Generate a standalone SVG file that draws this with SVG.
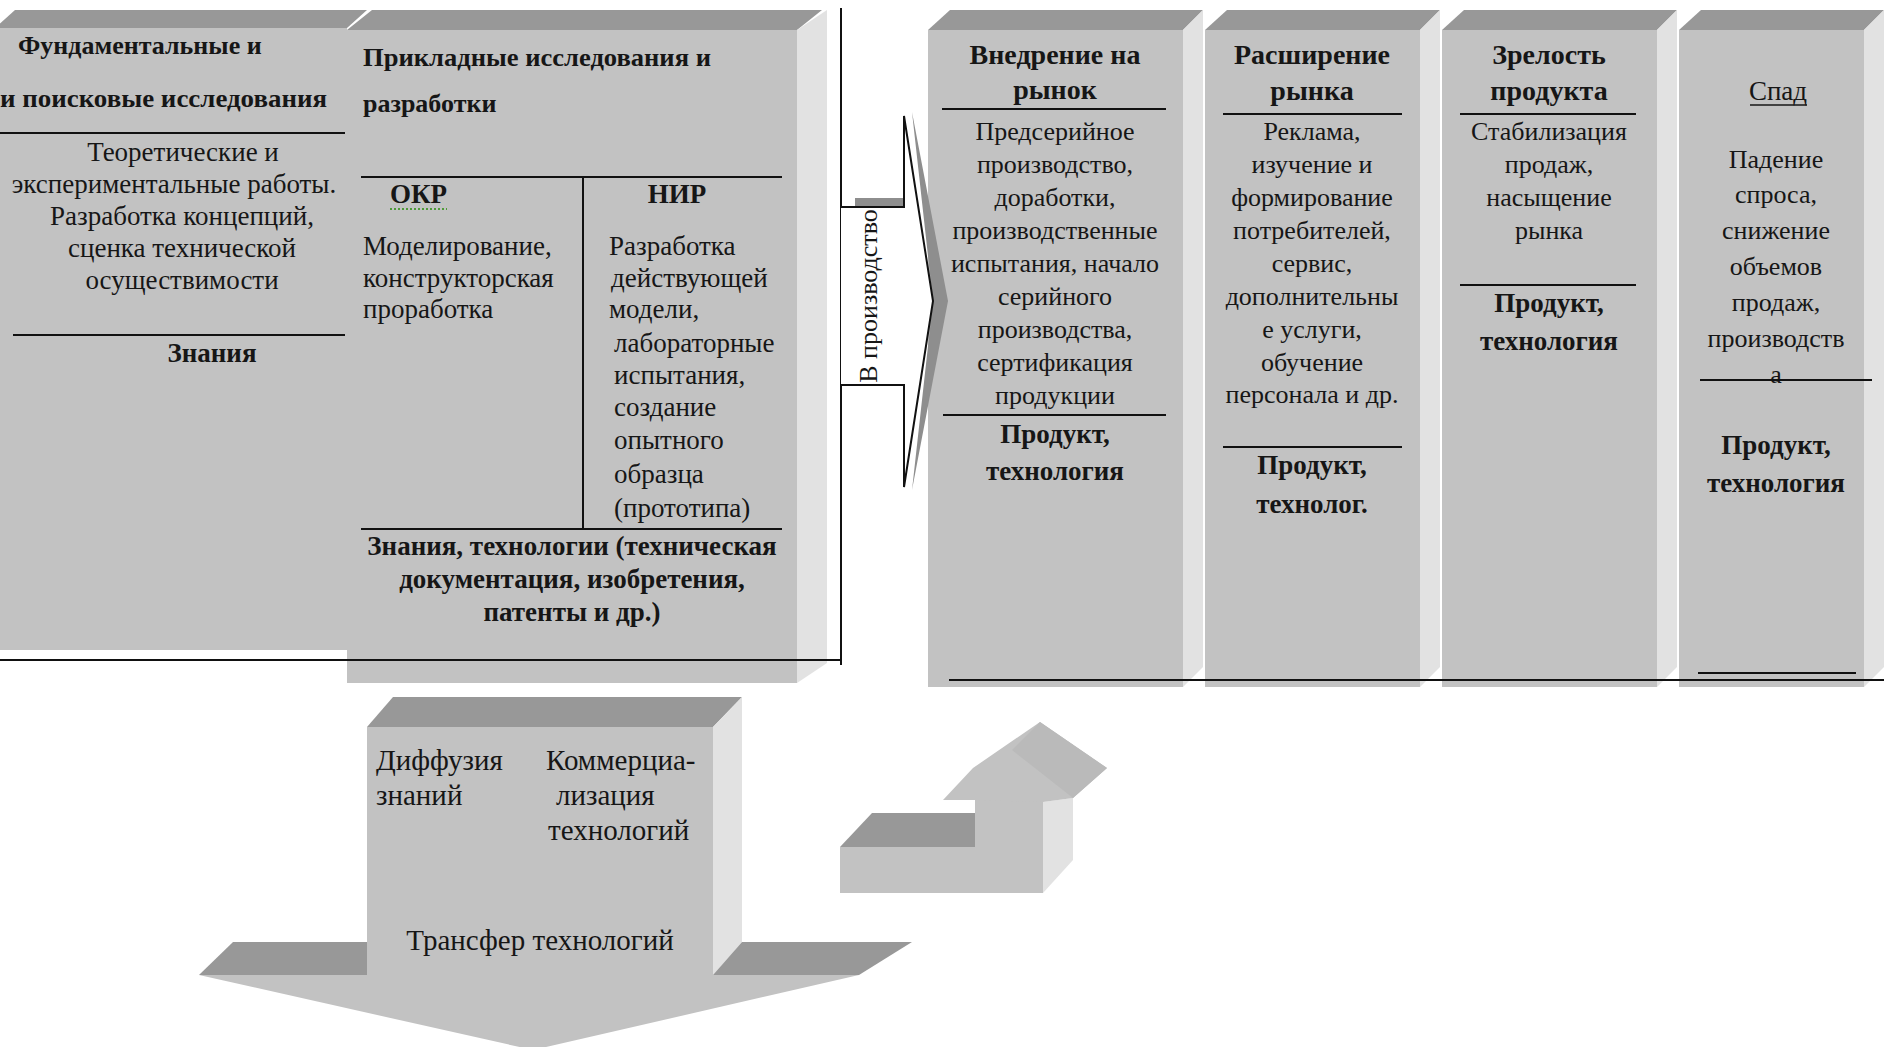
<svg xmlns="http://www.w3.org/2000/svg" width="1884" height="1047" viewBox="0 0 1884 1047">
<style>
.front{fill:#c2c2c2}
.top{fill:#989898}
.side{fill:#e2e2e2}
.dark{fill:#8e8e8e}
.ln{stroke:#111;stroke-width:2;fill:none}
.t{font-family:"Liberation Serif","Times New Roman",serif;font-size:26px;fill:#161616}
.m{font-size:27px}
.h{font-size:28px}
.b{font-weight:bold}
.c{text-anchor:middle}
.big{font-size:29px}
</style>
<rect width="1884" height="1047" fill="#fff"/>

<g id="block-fundamental">
<polygon class="top" points="-5,28 347,28 367,10 15,10"/>
<rect class="front" x="-5" y="28" width="352" height="622"/>
<line class="ln" x1="0" y1="133" x2="345" y2="133"/>
<line class="ln" x1="13" y1="335" x2="345" y2="335"/>
<text class="t b" x="18" y="54">Фундаментальные и</text>
<text class="t b" x="0" y="107" textLength="327" lengthAdjust="spacingAndGlyphs">и поисковые исследования</text>
<text class="t m c" x="183" y="161">Теоретические и</text>
<text class="t m c" x="174" y="193">экспериментальные работы.</text>
<text class="t m c" x="182" y="225">Разработка концепций,</text>
<text class="t m c" x="182" y="257">сценка технической</text>
<text class="t m c" x="182" y="289">осуществимости</text>
<text class="t m b c" x="212" y="362">Знания</text>
</g>

<g id="block-applied">
<polygon class="top" points="347,30 797,30 822,10 372,10"/>
<polygon class="side" points="797,30 827,10 827,663 797,683"/>
<rect class="front" x="347" y="30" width="450" height="653"/>
<line class="ln" x1="361" y1="177" x2="782" y2="177"/>
<line class="ln" x1="583" y1="177" x2="583" y2="529"/>
<line class="ln" x1="361" y1="529" x2="782" y2="529"/>
<text class="t b" x="363" y="66" textLength="348" lengthAdjust="spacingAndGlyphs">Прикладные исследования и</text>
<text class="t b" x="363" y="112">разработки</text>
<text class="t m b" x="390" y="203">ОКР</text>
<line x1="390" y1="209" x2="447" y2="209" stroke="#4f9a3a" stroke-width="2" stroke-dasharray="2,2"/>
<text class="t m b c" x="677" y="203">НИР</text>
<text class="t m" x="363" y="255">Моделирование,</text>
<text class="t m" x="363" y="287">конструкторская</text>
<text class="t m" x="363" y="318">проработка</text>
<text class="t m" x="609" y="255">Разработка</text>
<text class="t m" x="611" y="287">действующей</text>
<text class="t m" x="609" y="318">модели,</text>
<text class="t m" x="614" y="352">лабораторные</text>
<text class="t m" x="614" y="384">испытания,</text>
<text class="t m" x="614" y="416">создание</text>
<text class="t m" x="614" y="449">опытного</text>
<text class="t m" x="614" y="483">образца</text>
<text class="t m" x="614" y="517">(прототипа)</text>
<text class="t m b c" x="572" y="555">Знания, технологии (техническая</text>
<text class="t m b c" x="572" y="588">документация, изобретения,</text>
<text class="t m b c" x="572" y="621">патенты и др.)</text>
</g>

<g id="frame">
<line class="ln" x1="0" y1="660" x2="841" y2="660"/>
<line class="ln" x1="841" y1="8" x2="841" y2="665"/>
</g>

<g id="col-intro">
<polygon class="top" points="928,30 1183,30 1203,10 950,10"/>
<polygon class="side" points="1183,30 1203,10 1203,667 1183,687"/>
<rect class="front" x="928" y="30" width="255" height="657"/>
<text class="t h b c" x="1055" y="64">Внедрение на</text>
<text class="t h b c" x="1055" y="99">рынок</text>
<line class="ln" x1="942" y1="109" x2="1166" y2="109"/>
<text class="t c" x="1055" y="140">Предсерийное</text>
<text class="t c" x="1055" y="173">производство,</text>
<text class="t c" x="1055" y="206">доработки,</text>
<text class="t c" x="1055" y="239">производственные</text>
<text class="t c" x="1055" y="272">испытания, начало</text>
<text class="t c" x="1055" y="305">серийного</text>
<text class="t c" x="1055" y="338">производства,</text>
<text class="t c" x="1055" y="371">сертификация</text>
<text class="t c" x="1055" y="404">продукции</text>
<line class="ln" x1="943" y1="415" x2="1166" y2="415"/>
<text class="t m b c" x="1055" y="443">Продукт,</text>
<text class="t m b c" x="1055" y="480">технология</text>
</g>

<g id="col-expansion">
<polygon class="top" points="1205,30 1420,30 1440,10 1227,10"/>
<polygon class="side" points="1420,30 1440,10 1440,667 1420,687"/>
<rect class="front" x="1205" y="30" width="215" height="657"/>
<text class="t h b c" x="1312" y="64">Расширение</text>
<text class="t h b c" x="1312" y="100">рынка</text>
<line class="ln" x1="1223" y1="114" x2="1402" y2="114"/>
<text class="t c" x="1312" y="140">Реклама,</text>
<text class="t c" x="1312" y="173">изучение и</text>
<text class="t c" x="1312" y="206">формирование</text>
<text class="t c" x="1312" y="239">потребителей,</text>
<text class="t c" x="1312" y="272">сервис,</text>
<text class="t c" x="1312" y="305">дополнительны</text>
<text class="t c" x="1312" y="338">е услуги,</text>
<text class="t c" x="1312" y="371">обучение</text>
<text class="t c" x="1312" y="403">персонала и др.</text>
<line class="ln" x1="1223" y1="447" x2="1402" y2="447"/>
<text class="t m b c" x="1312" y="474">Продукт,</text>
<text class="t m b c" x="1312" y="513">технолог.</text>
</g>

<g id="col-maturity">
<polygon class="top" points="1442,30 1657,30 1677,10 1464,10"/>
<polygon class="side" points="1657,30 1677,10 1677,667 1657,687"/>
<rect class="front" x="1442" y="30" width="215" height="657"/>
<text class="t h b c" x="1549" y="64">Зрелость</text>
<text class="t h b c" x="1549" y="100">продукта</text>
<line class="ln" x1="1460" y1="114" x2="1636" y2="114"/>
<text class="t c" x="1549" y="140">Стабилизация</text>
<text class="t c" x="1549" y="173">продаж,</text>
<text class="t c" x="1549" y="206">насыщение</text>
<text class="t c" x="1549" y="239">рынка</text>
<line class="ln" x1="1460" y1="285" x2="1636" y2="285"/>
<text class="t m b c" x="1549" y="312">Продукт,</text>
<text class="t m b c" x="1549" y="350">технология</text>
</g>

<g id="col-decline">
<polygon class="top" points="1679,30 1864,30 1884,10 1701,10"/>
<polygon class="side" points="1864,30 1884,10 1884,667 1864,687"/>
<rect class="front" x="1679" y="30" width="185" height="657"/>
<text class="t m c" x="1778" y="100">Спад</text>
<line x1="1750" y1="105" x2="1807" y2="105" stroke="#161616" stroke-width="1.5"/>
<text class="t c" x="1776" y="168">Падение</text>
<text class="t c" x="1776" y="203">спроса,</text>
<text class="t c" x="1776" y="239">снижение</text>
<text class="t c" x="1776" y="275">объемов</text>
<text class="t c" x="1776" y="311">продаж,</text>
<text class="t c" x="1776" y="347">производств</text>
<text class="t c" x="1776" y="383">а</text>
<line class="ln" x1="1700" y1="380" x2="1872" y2="380"/>
<text class="t m b c" x="1776" y="454">Продукт,</text>
<text class="t m b c" x="1776" y="492">технология</text>
<line class="ln" x1="1698" y1="673" x2="1856" y2="673"/>
</g>

<g id="baseline">
<line class="ln" x1="949" y1="680" x2="1884" y2="680"/>
</g>

<g id="block-transfer">
<polygon class="top" points="367,727 713,727 742,697 393,697"/>
<polygon class="side" points="713,727 742,697 742,942 713,975"/>
<rect class="front" x="367" y="727" width="346" height="248"/>
<polygon class="front" points="199,975 859,975 533,1050"/>
<polygon class="top" points="199,975 367,975 367,942 233,942"/>
<polygon class="top" points="713,975 859,975 912,942 742,942"/>
<text class="t big" x="376" y="770">Диффузия</text>
<text class="t big" x="376" y="805">знаний</text>
<text class="t big" x="546" y="770">Коммерциа-</text>
<text class="t big" x="556" y="805">лизация</text>
<text class="t big" x="548" y="840">технологий</text>
<text class="t big c" x="540" y="950">Трансфер  технологий</text>
</g>

<g id="connectors">
<g id="arrow-production">
<rect x="855" y="198" width="48" height="9" class="dark"/>
<polygon class="dark" points="912,112 948,301 912,490 933,301"/>
<path d="M841,207 H904 V116 L933,301 L904,487 V385 H841" fill="#fff" stroke="#111" stroke-width="2" stroke-linejoin="miter"/>
<text class="t" font-size="19" transform="translate(877,296) rotate(-90)" text-anchor="middle">В производство</text>
</g>
<g id="arrow-up">
<polygon class="top" points="840,847 975,847 975,813 872,813"/>
<polygon class="side" points="1043,802 1073,798 1073,860 1043,893"/>
<rect class="front" x="840" y="847" width="203" height="46"/>
<rect class="front" x="975" y="800" width="68" height="93"/>
<polygon class="front" points="943,800 973,768 1040,722 1107,768 1073,798 1043,802 975,800"/>
<polygon fill="#bababa" points="1012,750 1040,722 1107,768 1073,798"/>
</g>
</g>
</svg>
